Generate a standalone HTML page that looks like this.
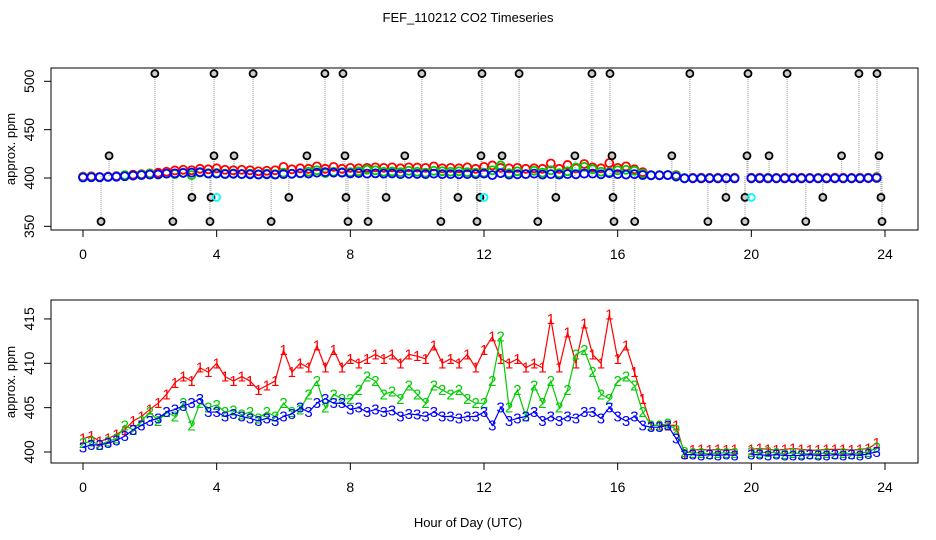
<!DOCTYPE html>
<html><head><meta charset="utf-8"><style>
body{margin:0;background:#fff}
svg{display:block;font-family:"Liberation Sans",sans-serif}
</style></head><body>
<svg id="c" width="936" height="540" xmlns="http://www.w3.org/2000/svg">
<rect width="936" height="540" fill="#fff"/>
<text x="468" y="22" font-size="13" text-anchor="middle">FEF_110212  CO2 Timeseries</text>
<text x="468" y="527" font-size="13" text-anchor="middle">Hour of Day (UTC)</text>
<text transform="translate(15,149) rotate(-90)" font-size="13" text-anchor="middle">approx. ppm</text>
<text transform="translate(15,382) rotate(-90)" font-size="13" text-anchor="middle">approx. ppm</text>
<g id="topPanel"></g>
<g id="botPanel"></g>
</svg>
<script>
const xTicks=[0,4,8,12,16,20,24];
const topYTicks=[350,400,450,500];
const botYTicks=[400,405,410,415];
const step=0.25;
const s1=[401.5,401.8,401.2,401.5,402,402.5,403.5,404,404.8,405.5,406.5,407.8,408.5,408,409.5,409,410,408.5,408,408.5,408,407,407.5,408,411.5,409,410,409.5,412,409.5,411.5,409.5,410.5,410,410.5,411,410.5,411,410,411,410.8,410.5,412,410,410.5,410,411,409.5,411.5,413,410.5,410,410.5,409.5,410,409.5,415,409.5,413.5,410,414.5,411,410,415.5,410.5,412,409,406,403,403,403,403,399.8,400.2,400.3,400.2,400.3,400.2,400.3,null,400.3,400.4,400.3,400.2,400.3,400.4,400.3,400.2,400.2,400.3,400.3,400.3,400.2,400.3,400.4,401];
const s2=[401,401.2,400.8,401.2,401.5,403,402.5,403.5,404.5,403.5,404.5,404,405.5,403,405.5,405,405.3,404.5,404.7,404.2,404.5,403.8,404.5,404,405.5,404.5,404.8,406.5,408,405,406.5,406,406,407,408.5,408,406.5,406.8,406,407.5,406.5,405.5,407.5,407,406.5,407,406,405.5,405.5,408,413,405,407,404,407.5,405.5,408,405,407,411,411.5,409,406.5,406,408,408.5,407.5,404.5,403,403,403.2,402.5,400,399.9,399.9,399.8,399.9,399.9,399.9,null,400,399.9,400,399.9,399.8,399.9,399.8,399.8,399.8,399.9,399.8,399.9,399.8,399.9,400,400.5];
const s3=[400.5,400.8,400.8,401,401.3,401.8,402.5,403,403.5,403.8,404.5,404.8,405.2,405.5,406,404.5,404.5,404,404.3,404,403.8,403.5,403.8,403.5,404,404.3,405,404.5,405.5,406,405.5,405.5,404.8,405,404.5,404.8,404.5,404.7,404,404.3,404.2,404,404.5,404,404,403.8,404,404,404.5,403,405,403.5,403.8,404,404.5,403.5,404,403.5,404,403.8,404.5,404.5,403.8,405,404,403.5,404,403,402.8,402.8,403,401.5,399.7,399.7,399.6,399.7,399.6,399.7,399.6,null,399.7,399.7,399.6,399.7,399.6,399.6,399.6,399.7,399.6,399.6,399.7,399.6,399.7,399.6,399.8,400];
const outHours=[2.15,3.92,5.09,7.24,7.78,10.14,11.94,13.05,15.23,15.77,18.16,19.9,21.07,23.22,23.76,0.78,3.92,4.52,6.7,7.84,9.63,11.91,12.54,14.72,15.83,17.62,19.87,20.53,22.7,23.82,3.26,3.83,6.16,7.87,9.07,11.22,11.88,14.15,15.86,19.24,19.81,22.14,23.88,0.54,2.69,3.8,5.63,7.93,8.53,10.71,11.79,13.61,15.89,16.51,18.7,19.81,21.63,23.91];
const outVals=[508,508,508,508,508,508,508,508,508,508,508,508,508,508,508,423,423,423,423,423,423,423,423,423,423,423,423,423,423,423,380,380,380,380,380,380,380,380,380,380,380,380,380,355,355,355,355,355,355,355,355,355,355,355,355,355,355,355];
const cyanHours=[4,12,20];
const cyanVals=[380,380,380];

const NS="http://www.w3.org/2000/svg";
function mk(p,tag,a){const e=document.createElementNS(NS,tag);for(const k in a)e.setAttribute(k,a[k]);p.appendChild(e);return e;}
const X=h=>83+h*(885-83)/24;
const Yt=v=>178-(v-400)*0.967;
const Yb=v=>452-(v-400)*8.87;
const series=[[s1,'#ff0000','1'],[s2,'#00cd00','2'],[s3,'#0000ff','3']];

function frame(g,y0,y1,ticks,Y,name){
  const r=mk(g,'rect',{x:51,y:y0,width:867,height:y1-y0,fill:'none',stroke:'#000','stroke-width':1});
  
  
  xTicks.forEach(t=>{
    const l=mk(g,'line',{x1:X(t),x2:X(t),y1:y1,y2:y1+7,stroke:'#000'});
    
    
    const tx=mk(g,'text',{x:X(t),y:y1+29,'font-size':14,'text-anchor':'middle'});
    tx.textContent=t;
    
    
  });
  ticks.forEach(t=>{
    const l=mk(g,'line',{x1:44,x2:51,y1:Y(t),y2:Y(t),stroke:'#000'});
    
    
    const tx=mk(g,'text',{transform:`translate(34,${Y(t)}) rotate(-90)`,'font-size':14,'text-anchor':'middle'});
    tx.textContent=t;
    
    
  });
}
const gTop=document.getElementById('topPanel'),gBot=document.getElementById('botPanel');
frame(gTop,68,230,topYTicks,Yt,'top');
frame(gBot,300,463,botYTicks,Yb,'bottom');

outHours.forEach((h,i)=>{
  const l=mk(gTop,'line',{x1:X(h),x2:X(h),y1:Yt(402),y2:Yt(outVals[i]),stroke:'#aaa','stroke-width':1.3,'stroke-dasharray':'1,1'});
  
  
});
series.forEach(([arr,col,lab])=>{
  arr.forEach((v,i)=>{
    if(v==null)return;
    const c=mk(gTop,'circle',{cx:X(i*step),cy:Yt(v),r:4,fill:'none',stroke:col,'stroke-width':1.8});
    
    
  });
});
outHours.forEach((h,i)=>{
  const c=mk(gTop,'circle',{cx:X(h),cy:Yt(outVals[i]),r:3.5,fill:'#ccc',stroke:'#000','stroke-width':1.8});
  
  
});
cyanHours.forEach((h,i)=>{
  const c=mk(gTop,'circle',{cx:X(h),cy:Yt(cyanVals[i]),r:3.5,fill:'none',stroke:'#00ffff','stroke-width':1.8});
  
  
});

series.forEach(([arr,col,lab])=>{
  let d='',pen=false;
  arr.forEach((v,i)=>{
    if(v==null){pen=false;return;}
    d+=(pen?'L':'M')+X(i*step)+','+Yb(v);pen=true;
  });
  const p=mk(gBot,'path',{d,fill:'none',stroke:col,'stroke-width':1.2});
  
  
  arr.forEach((v,i)=>{
    if(v==null)return;
    const t=mk(gBot,'text',{x:X(i*step),y:Yb(v)+5,'font-size':15,'text-anchor':'middle',fill:col});
    t.textContent=lab;
    
    
  });
});
</script>
</body></html>
